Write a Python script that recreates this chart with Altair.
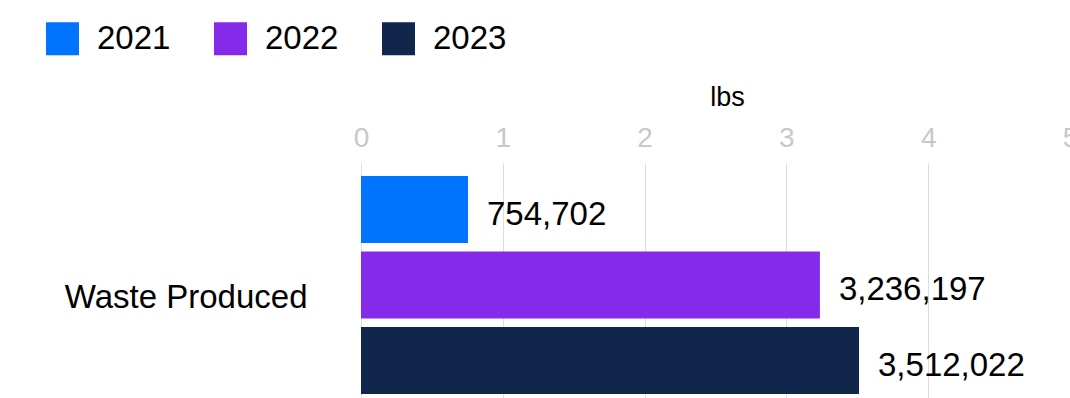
import altair as alt
import pandas as pd

categories = ["Waste Produced"]
years = ["2021", "2022", "2023"]
values = [754702, 3236197, 3512022]
colors = ["#0073FF", "#862AE9", "#11264B"]
tick_values = [0, 1000000, 2000000, 3000000, 4000000, 5000000]

df = pd.DataFrame({
    "category": [categories[0]] * len(years),
    "year": years,
    "value": values,
})

FONT = "Liberation Sans"

x_enc = alt.X(
    "value:Q",
    scale=alt.Scale(domain=[0, 5000000], nice=False),
    axis=alt.Axis(
        orient="top",
        title="lbs",
        values=tick_values,
        labelExpr="format(datum.value / 1000000, 'd')",
        labelFlush=False,
        labelFont=FONT,
        labelFontSize=28,
        labelColor="#c8c8c8",
        labelPadding=11,
        ticks=False,
        domain=False,
        grid=True,
        gridColor="#dedede",
        gridWidth=1,
        titleFont=FONT,
        titleFontSize=27,
        titleFontWeight="normal",
        titleColor="#000000",
        titlePadding=13,
        titleX=366,
    ),
)

y_enc = alt.Y(
    "category:N",
    scale=alt.Scale(paddingInner=0, paddingOuter=0),
    axis=alt.Axis(
        title=None,
        ticks=False,
        domain=False,
        labelFont=FONT,
        labelFontSize=33,
        labelColor="#000000",
        labelPadding=54,
        labelOffset=17,
        labelLimit=0,
    ),
)

yoff_enc = alt.YOffset(
    "year:N",
    sort=years,
    scale=alt.Scale(paddingInner=0.1126, paddingOuter=0.1126, align=0.765),
)

base = alt.Chart(df)

bars = base.mark_bar().encode(
    x=x_enc,
    y=y_enc,
    yOffset=yoff_enc,
    color=alt.Color(
        "year:N",
        sort=years,
        scale=alt.Scale(domain=years, range=colors),
        legend=alt.Legend(
            title=None,
            orient="none",
            legendX=-315,
            legendY=-141,
            direction="horizontal",
            symbolType="square",
            symbolSize=1089,
            symbolStrokeWidth=0,
            symbolOpacity=1,
            labelFont=FONT,
            labelFontSize=33,
            labelColor="#000000",
            labelOffset=18,
            columnPadding=43,
            padding=0,
        ),
    ),
)

labels = base.mark_text(
    align="left",
    baseline="middle",
    dx=19,
    dy=5,
    font=FONT,
    fontSize=33,
    color="#000000",
).encode(
    x="value:Q",
    y="category:N",
    yOffset=alt.YOffset("year:N", sort=years),
    text=alt.Text("value:Q", format=","),
)

chart = alt.layer(bars, labels).properties(
    width=709,
    height=235,
    autosize="none",
    padding={"left": 361, "top": 163, "right": 0, "bottom": 0},
).configure(background="#ffffff").configure_view(stroke=None, strokeWidth=0)

chart.save("out.html", embed_options={"renderer": "svg", "actions": False})
